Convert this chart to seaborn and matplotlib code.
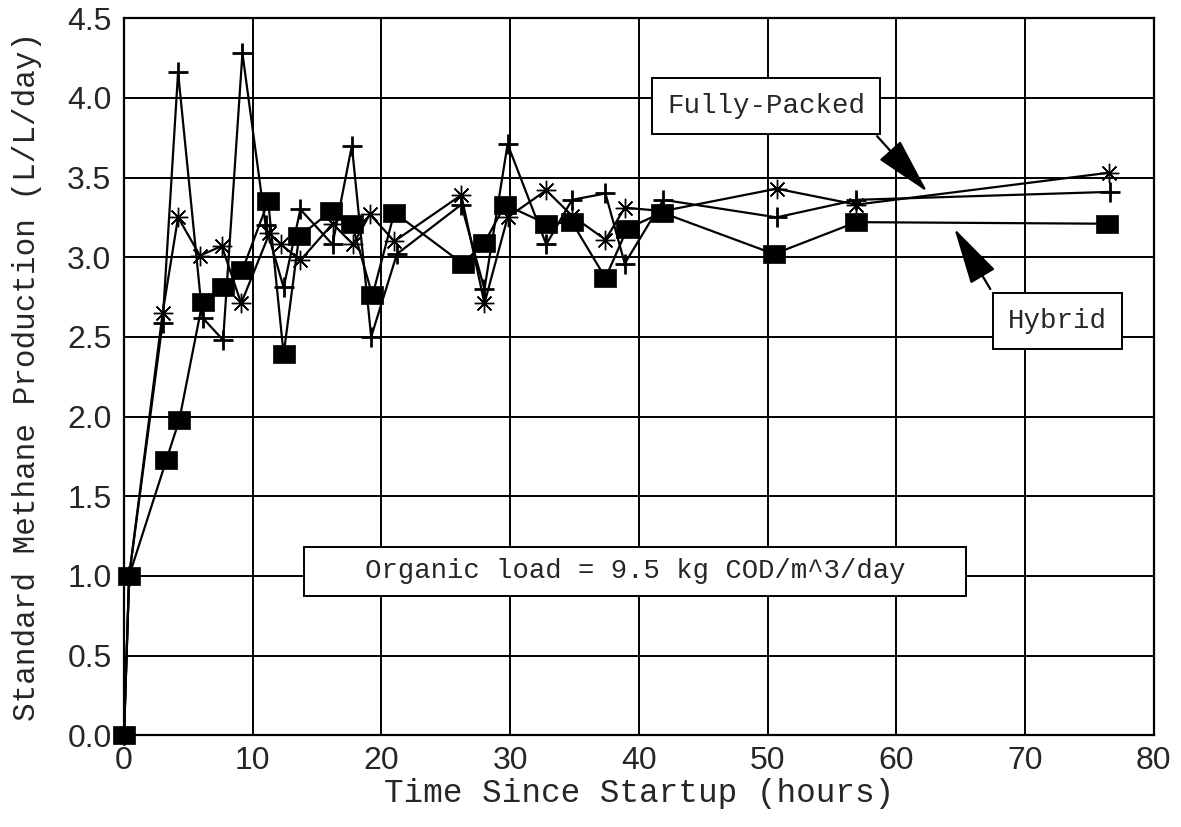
import matplotlib
matplotlib.use("Agg")
import matplotlib.pyplot as plt
import seaborn as sns
from matplotlib import font_manager

# ---- data ----
hours_hybrid = [0.0, 0.4, 3.3, 4.3, 6.1, 7.7, 9.2, 11.2, 12.4, 13.6, 16.1, 17.7,
                19.3, 21.0, 26.3, 28.0, 29.6, 32.8, 34.8, 37.4, 39.1, 41.8, 50.5,
                56.9, 76.4]
prod_hybrid = [0.0, 1.0, 1.73, 1.98, 2.72, 2.81, 2.92, 3.35, 2.39, 3.13, 3.29, 3.21,
               2.76, 3.28, 2.96, 3.09, 3.33, 3.21, 3.22, 2.87, 3.18, 3.28, 3.02,
               3.22, 3.21]

hours_plus = [0.0, 0.4, 3.0, 4.2, 6.1, 7.7, 9.2, 11.0, 12.4, 13.7, 16.2, 17.7,
              19.2, 21.2, 26.2, 28.0, 29.8, 32.8, 34.8, 37.4, 38.9, 41.9, 50.7,
              56.9, 76.6]
prod_plus = [0.0, 1.0, 2.59, 4.16, 2.62, 2.48, 4.28, 3.20, 2.81, 3.30, 3.08, 3.70,
             2.50, 3.02, 3.33, 2.80, 3.71, 3.08, 3.36, 3.40, 2.96, 3.36, 3.25,
             3.36, 3.41]

hours_full = [0.0, 0.4, 3.0, 4.2, 5.9, 7.6, 9.1, 11.3, 12.2, 13.7, 16.2, 17.8,
              19.1, 21.0, 26.2, 28.0, 29.8, 32.8, 34.8, 37.4, 38.9, 41.9, 50.7,
              56.9, 76.5]
prod_full = [0.0, 1.0, 2.65, 3.25, 3.01, 3.07, 2.71, 3.15, 3.08, 2.98, 3.21, 3.08,
             3.27, 3.10, 3.39, 2.71, 3.25, 3.42, 3.26, 3.11, 3.31, 3.29, 3.43,
             3.33, 3.53]

x_ticks = [0, 10, 20, 30, 40, 50, 60, 70, 80]
y_ticks = [0.0, 0.5, 1.0, 1.5, 2.0, 2.5, 3.0, 3.5, 4.0, 4.5]
y_tick_labels = ["0.0", "0.5", "1.0", "1.5", "2.0", "2.5", "3.0", "3.5", "4.0", "4.5"]

x_label = "Time Since Startup (hours)"
y_label = "Standard Methane Production (L/L/day)"
note_text = "Organic load = 9.5 kg COD/m^3/day"
label_full = "Fully-Packed"
label_hybrid = "Hybrid"

# ---- style ----
sns.set_style("white")
plt.rcParams['font.family'] = ['Liberation Sans', 'DejaVu Sans']
installed = {f.name for f in font_manager.fontManager.ttflist}
narrow = 'Liberation Sans Narrow' if 'Liberation Sans Narrow' in installed else 'Liberation Sans'
mono = ['Liberation Mono', 'DejaVu Sans Mono']

fig = plt.figure(figsize=(11.81, 8.27), dpi=100)
ax = fig.add_axes([0.105, 0.111, 0.872, 0.867])

rect_marker = [(-1.3, -1), (1.3, -1), (1.3, 1), (-1.3, 1), (-1.3, -1)]

common = dict(ax=ax, color='black', sort=False, estimator=None, linewidth=1.6,
              markeredgecolor='black', clip_on=False)
sns.lineplot(x=hours_full, y=prod_full, marker=(8, 2, 0), markersize=14,
             markeredgewidth=1.0, zorder=3, **common)
sns.lineplot(x=hours_plus, y=prod_plus, marker='+', markersize=15,
             markeredgewidth=2.0, zorder=4, **common)
sns.lineplot(x=hours_hybrid, y=prod_hybrid, marker=rect_marker, markersize=16,
             markeredgewidth=0.5, markerfacecolor='black', zorder=5, **common)

ax.set_xlim(0, 80)
ax.set_ylim(0, 4.5)
ax.set_xticks(x_ticks)
ax.set_yticks(y_ticks)
ax.set_yticklabels(y_tick_labels)
ax.grid(True, color='black', linewidth=1.4)
ax.set_axisbelow(True)
for s in ax.spines.values():
    s.set_color('black')
    s.set_linewidth(1.6)
ax.tick_params(axis='both', direction='out', length=6, width=1.4, color='black')
ax.tick_params(axis='y', labelsize=23, pad=3)
ax.tick_params(axis='x', labelsize=23, pad=2)
for lab in ax.get_xticklabels():
    lab.set_family(narrow)

ax.set_xlabel(x_label, family=mono, fontsize=23.5, labelpad=1)
ax.set_ylabel(y_label, family=mono, fontsize=22.3, labelpad=18)

box = dict(boxstyle='square,pad=0.55', facecolor='white', edgecolor='black', linewidth=1.4)
ax.text(49.9, 3.95, label_full, family=mono, fontsize=19.8, ha='center', va='center',
        bbox=box, zorder=10)
ax.text(72.5, 2.60, label_hybrid, family=mono, fontsize=19.8, ha='center', va='center',
        bbox=box, zorder=10)
ax.text(39.7, 1.03, "   " + note_text + "   ", family=mono, fontsize=19.6,
        ha='center', va='center',
        bbox=dict(boxstyle='square,pad=0.42', facecolor='white', edgecolor='black',
                  linewidth=1.4), zorder=10)

arrow = dict(arrowstyle='-|>,head_length=1.8,head_width=0.45', color='black',
             linewidth=1.6, mutation_scale=20, shrinkA=0, shrinkB=0)
ax.annotate('', xy=(62.4, 3.41), xytext=(58.5, 3.76), arrowprops=arrow, zorder=11)
ax.annotate('', xy=(64.5, 3.18), xytext=(67.3, 2.80), arrowprops=arrow, zorder=11)

fig.savefig('out.png', dpi=100)
